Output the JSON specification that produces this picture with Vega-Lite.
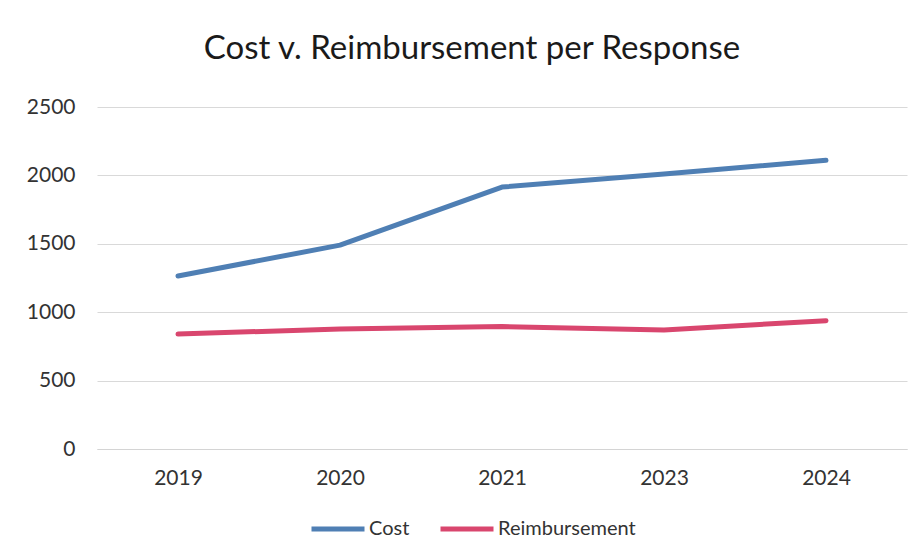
{
  "$schema": "https://vega.github.io/schema/vega-lite/v6.json",
  "width": 810,
  "height": 342,
  "autosize": {"type": "none"},
  "padding": {"left": 97, "top": 107, "right": 14, "bottom": 109},
  "background": "white",
  "title": {
    "text": "Cost v. Reimbursement per Response",
    "font": "Lato",
    "fontSize": 33,
    "fontWeight": "normal",
    "color": "#1a1a1a",
    "anchor": "middle",
    "dx": -30,
    "offset": 30
  },
  "config": {
    "view": {"stroke": null},
    "font": "Lato"
  },
  "data": {
    "values": [
      {"year": "2019", "series": "Cost", "value": 1265},
      {"year": "2020", "series": "Cost", "value": 1490},
      {"year": "2021", "series": "Cost", "value": 1915},
      {"year": "2023", "series": "Cost", "value": 2010},
      {"year": "2024", "series": "Cost", "value": 2110},
      {"year": "2019", "series": "Reimbursement", "value": 840},
      {"year": "2020", "series": "Reimbursement", "value": 878},
      {"year": "2021", "series": "Reimbursement", "value": 895},
      {"year": "2023", "series": "Reimbursement", "value": 870},
      {"year": "2024", "series": "Reimbursement", "value": 938}
    ]
  },
  "mark": {"type": "line", "strokeWidth": 5, "strokeCap": "round", "strokeJoin": "round"},
  "encoding": {
    "x": {
      "field": "year",
      "type": "ordinal",
      "sort": ["2019", "2020", "2021", "2023", "2024"],
      "scale": {"type": "point", "padding": 0.5},
      "axis": {
        "title": null,
        "labelAngle": 0,
        "labelFontSize": 21,
        "labelColor": "#333333",
        "labelPadding": 18,
        "ticks": false,
        "domain": true,
        "domainColor": "#d4d4d4",
        "grid": false
      }
    },
    "y": {
      "field": "value",
      "type": "quantitative",
      "scale": {"domain": [0, 2500]},
      "axis": {
        "title": null,
        "format": "d",
        "values": [0, 500, 1000, 1500, 2000, 2500],
        "labelFontSize": 21,
        "labelColor": "#333333",
        "labelPadding": 22,
        "ticks": false,
        "domain": false,
        "grid": true,
        "gridColor": "#d9d9d9",
        "gridWidth": 1
      }
    },
    "color": {
      "field": "series",
      "type": "nominal",
      "scale": {"domain": ["Cost", "Reimbursement"], "range": ["#4f7fb4", "#d9466e"]},
      "legend": {
        "title": null,
        "orient": "none",
        "legendX": 212,
        "legendY": 393,
        "direction": "horizontal",
        "symbolType": "stroke",
        "symbolSize": 2809,
        "symbolStrokeWidth": 5,
        "labelFontSize": 20,
        "labelColor": "#333333",
        "labelOffset": 2,
        "columnPadding": 20
      }
    }
  }
}
